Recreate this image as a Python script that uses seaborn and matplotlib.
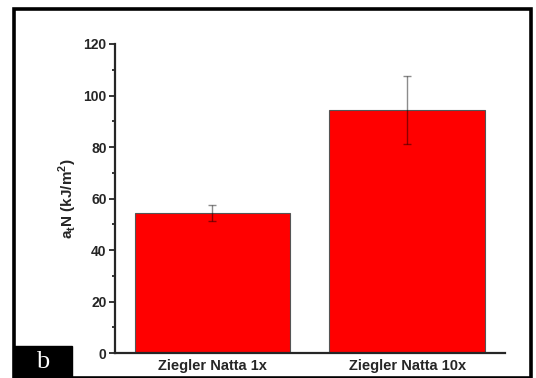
import numpy as np
import matplotlib
matplotlib.use("Agg")
import matplotlib.pyplot as plt
import seaborn as sns
import pandas as pd
from matplotlib.patches import Rectangle

# data
samples = ["Ziegler Natta 1x", "Ziegler Natta 10x"]
impact = [54.5, 94.4]
impact_err = [3.1, 13.2]

df = pd.DataFrame({"sample": samples, "value": impact})

sns.set_style("ticks")
plt.rcParams['font.family'] = ['Liberation Sans', 'DejaVu Sans']
plt.rcParams['mathtext.fontset'] = 'custom'
plt.rcParams['mathtext.bf'] = 'Liberation Sans:bold'
plt.rcParams['mathtext.rm'] = 'Liberation Sans:bold'

fig = plt.figure(figsize=(5.36, 3.78), dpi=100)
ax = fig.add_axes([0.2146, 0.0661, 0.942 - 0.2146, 0.8836 - 0.0661])

sns.barplot(data=df, x="sample", y="value", color="#ff0000", saturation=1,
            width=0.8, edgecolor="#555555", linewidth=0.8, ax=ax)
ax.errorbar(x=np.arange(len(samples)), y=impact, yerr=impact_err, fmt="none",
            ecolor="black", alpha=0.45, elinewidth=1, capsize=3, capthick=1)

ax.set_xlim(-0.5, 1.5)
ax.set_ylim(0, 120)
ax.set_yticks(np.arange(0, 121, 20))
ax.set_yticks(np.arange(10, 120, 20), minor=True)
ax.set_xlabel("")
ax.set_ylabel(r"a$_\mathbf{t}$N (kJ/m$^\mathbf{2}$)", fontsize=11, fontweight="bold", labelpad=3)

for lab in ax.get_yticklabels():
    lab.set_fontweight("bold")
    lab.set_fontsize(10)
for lab in ax.get_xticklabels():
    lab.set_fontweight("bold")
    lab.set_fontsize(10.5)

ax.tick_params(axis="y", which="major", direction="out", length=4, width=1.3, pad=2)
ax.tick_params(axis="y", which="minor", direction="out", length=2.5, width=1.3)
ax.tick_params(axis="x", length=0, pad=4)
ax.spines['top'].set_visible(False)
ax.spines['right'].set_visible(False)
ax.spines['left'].set_linewidth(1.6)
ax.spines['bottom'].set_linewidth(1.6)

# outer frame of the panel
W, H = 536, 378
fig.patches.append(Rectangle((14 / W, 0 / H), (531 - 14) / W, (369 - 0) / H,
                             transform=fig.transFigure, fill=False,
                             edgecolor="black", linewidth=2.6))
# panel letter box
fig.patches.append(Rectangle((14 / W, 0), (72 - 14) / W, (378 - 346) / H,
                             transform=fig.transFigure, facecolor="black",
                             edgecolor="black"))
fig.text(43 / W, 16 / H, "b", color="white", fontsize=19, ha="center", va="center",
         family=["Liberation Serif", "DejaVu Serif"])

plt.savefig("out.png", dpi=100)
